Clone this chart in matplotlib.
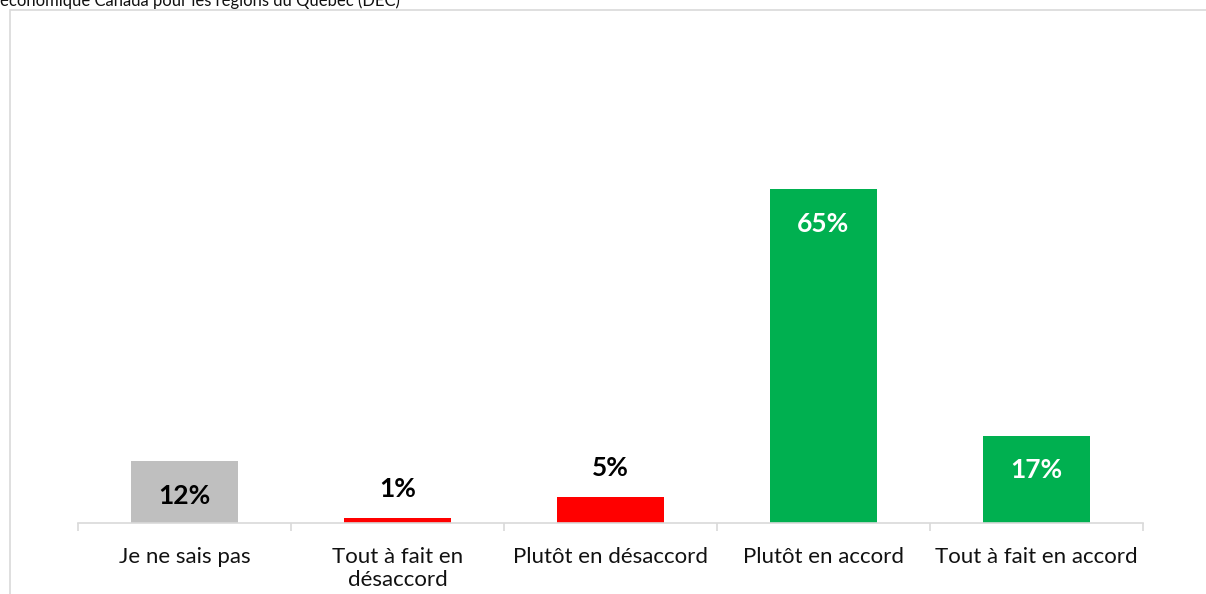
import matplotlib.pyplot as plt
from matplotlib.patches import Rectangle

plt.rcParams['font.family'] = ['Lato', 'DejaVu Sans']

categories = ["Je ne sais pas", "Tout à fait en\ndésaccord", "Plutôt en désaccord",
              "Plutôt en accord", "Tout à fait en accord"]
values = [12, 1, 5, 65, 17]
colors = ["#BFBFBF", "#FF0000", "#FF0000", "#00B050", "#00B050"]
label_inside = [True, False, False, True, True]
label_colors = ["black", "black", "black", "white", "white"]
title = "économique Canada pour les régions du Québec (DEC)"

W, H = 1206, 594
fig = plt.figure(figsize=(W / 100, H / 100), dpi=100)

# chart border (Excel chart area), runs off the right and bottom edges
fig.patches.append(Rectangle((10 / W, -0.1), 1.2, 1 - 10 / H + 0.1,
                             transform=fig.transFigure, fill=False,
                             edgecolor="#D9D9D9", linewidth=1.2))

fig.text(0, 1 - 6 / H, title, fontsize=12, color="#111111",
         ha="left", va="baseline")

ax = fig.add_axes([78 / W, (H - 523) / H, (1143 - 78) / W, 493 / H])
x = range(len(values))
ax.bar(x, values, width=0.5, color=colors)
ax.set_xlim(-0.5, len(values) - 0.5)
ax.set_ylim(0, 96)

for i, v in enumerate(values):
    dy = -25 if label_inside[i] else 21
    ax.annotate(f"{v}%", (i, v), xytext=(0, dy), textcoords="offset points",
                ha="center", va="center", fontsize=19, fontweight="bold",
                color=label_colors[i])

for s in ["top", "right", "left"]:
    ax.spines[s].set_visible(False)
ax.spines["bottom"].set_color("#D9D9D9")
ax.spines["bottom"].set_linewidth(1.2)
ax.set_yticks([])

ax.set_xticks([i - 0.5 for i in range(len(values) + 1)], minor=False)
ax.set_xticklabels([])
ax.tick_params(axis="x", length=6, color="#D9D9D9", width=1.2)
ax.set_xticks(list(x), minor=True)
ax.set_xticklabels(categories, minor=True, fontsize=16, color="#111111",
                   linespacing=1.2, va="top")
ax.tick_params(axis="x", which="minor", length=0, pad=17)

fig.savefig("out.png", dpi=100)
